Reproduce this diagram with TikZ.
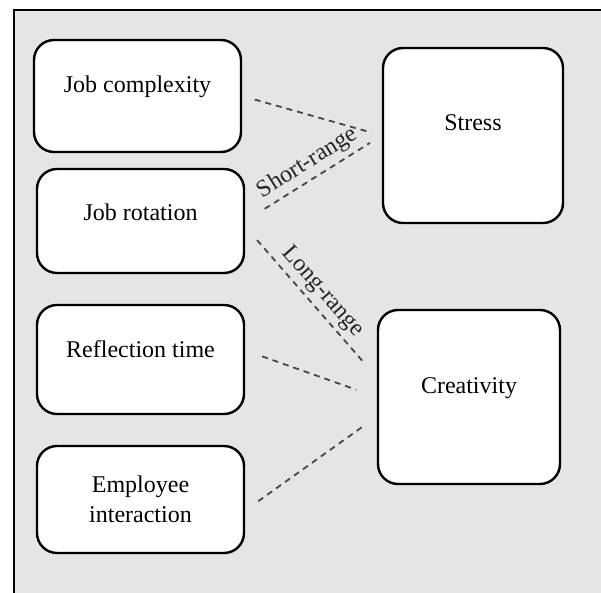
\documentclass[tikz,border=0pt]{standalone}
\usepackage{fontspec}
\setmainfont{Liberation Serif}
\usepackage{tikz}
\definecolor{framegray}{RGB}{229,229,229}
\definecolor{dashgray}{RGB}{70,70,70}

\begin{document}
\begin{tikzpicture}[x=0.5pt,y=-0.5pt,
    box/.style={rectangle,draw=black,fill=white,line width=1.2pt,rounded corners=10pt,inner sep=0pt,anchor=base,font=\fontsize{12}{15}\selectfont},
    link/.style={dash pattern=on 3pt off 2.5pt,line width=0.9pt,dashgray},
    lbl/.style={sloped,above,font=\fontsize{12}{15}\selectfont,text=black!85,inner sep=2pt}]
    \useasboundingbox (0,0) rectangle (601,593);
    % Sfondo
    \fill[framegray] (14,10) rectangle (603,595);
    \draw[line width=1.1pt] (14,595) -- (14,10) -- (603,10);

    % Fattori a sinistra
    \node[box,minimum width=103.5pt,text height=26.5pt,text depth=29.5pt] (cmplx) at (137.5,93) {Job complexity};
    \node[box,minimum width=103.5pt,text height=26pt,text depth=26pt] (rot) at (140.5,221) {Job rotation};
    \node[box,minimum width=103.5pt,text height=26.5pt,text depth=28pt] (refl) at (140.5,358) {Reflection time};
    \node[box,minimum width=103.5pt,minimum height=53.5pt,anchor=center,align=center] (emp) at (140.5,499.5) {Employee\\interaction};

    % Esiti a destra
    \node[box,minimum width=90pt,text height=41.5pt,text depth=46pt] (stress) at (473,131) {Stress};
    \node[box,minimum width=91pt,text height=42pt,text depth=45pt] (crea) at (469,394) {Creativity};

    % Collegamenti
    \draw[link,shorten <=6.5pt,shorten >=5.5pt] (cmplx.east) -- (stress.west);
    \draw[link,shorten <=11.5pt,shorten >=7pt] (rot.east) -- (stress.west) node[lbl,pos=0.52] (shortlbl) {Short-range};
    \draw[link,shorten <=9pt,shorten >=10.5pt] (rot.-3) -- (crea.168) node[lbl,pos=0.5] (longlbl) {Long-range};
    \draw[link,shorten <=9pt,shorten >=11pt] (refl.5) -- (crea.west);
    \draw[link,shorten <=8pt,shorten >=7pt] (emp.-6) -- (crea.192);
\end{tikzpicture}
\end{document}
